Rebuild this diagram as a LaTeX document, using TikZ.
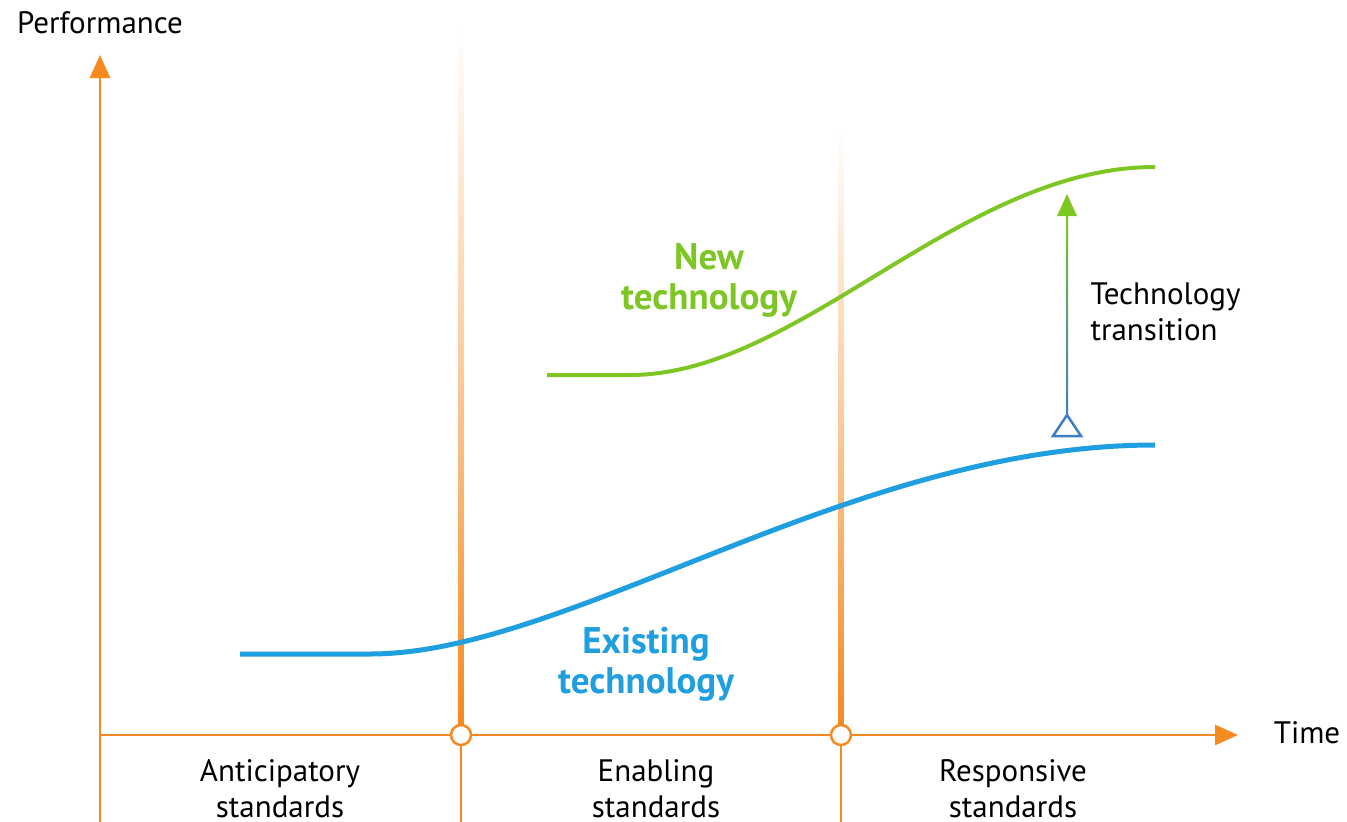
\documentclass[tikz,border=0pt]{standalone}
\usepackage{fontspec}
\setmainfont{PT Sans}
\usetikzlibrary{arrows.meta}
\definecolor{ora}{HTML}{F6891F}
\definecolor{grn}{HTML}{7DC623}
\definecolor{blu}{HTML}{1F9FDF}
\definecolor{tblu}{HTML}{3C7EC8}
\tikzset{
  axis/.style={draw=ora, line width=2.8pt},
  tip/.style={-{Triangle[length=23pt,width=20pt]}},
  mark circ/.style={circle, draw=ora, fill=white, line width=2.5pt, minimum size=20pt, inner sep=0pt},
  lbl/.style={font=\fontsize{31}{36}\selectfont, align=center, text=black},
  big/.style={font=\fontsize{37}{40}\selectfont\bfseries, align=center},
}
\begin{document}
\begin{tikzpicture}[x=1pt,y=-1pt]
\useasboundingbox (0,0) rectangle (1347,822);
% fading vertical lines
\shade[top color=white, bottom color=ora, middle color=ora!45] (458.5,25) rectangle (463.5,726);
\shade[top color=white, bottom color=ora, middle color=ora!45] (838.5,125) rectangle (843.5,726);
% axes
\coordinate (O) at (100,735);
\coordinate (ytop) at (100,55);
\coordinate (ybot) at (100,822);
\coordinate (xend) at (1238,735);
\draw[axis, tip] (ybot) -- (ytop);
\draw[axis, tip] (O) -- (xend);
\node[mark circ] (c1) at (461,735) {};
\node[mark circ] (c2) at (841,735) {};
\coordinate (b1) at (461,822);
\coordinate (b2) at (841,822);
\draw[axis] (c1.south) -- (b1);
\draw[axis] (c2.south) -- (b2);
% curves
\draw[blu, line width=5pt] (240,654) -- (370,654) .. controls (570,654) and (850,445) .. (1155,445);
\draw[grn, line width=4pt] (547,375) -- (630,375) .. controls (800,375) and (960,167) .. (1155,167);
% transition arrow
\shade[top color=grn, bottom color=tblu] (1066,212) rectangle (1068,416);
\fill[grn] (1067,194) -- (1077,216) -- (1057,216) -- cycle;
\draw[tblu, line width=2.5pt, fill=white, line join=miter] (1053,436) -- (1081,436) -- (1067,415) -- cycle;
% labels
\node[lbl] (perf) at (100,23) {Performance};
\node[lbl] (time) at (1307,733) {Time};
\node[lbl, align=left, anchor=west] (trans) at (1087,312) {Technology\\transition};
\node[big, text=grn] (newt) at (709,280) {New\\technology};
\node[big, text=blu] (exist) at (646,664) {Existing\\technology};
\node[lbl] (ant) at (280,789) {Anticipatory\\standards};
\node[lbl] (ena) at (656,789) {Enabling\\standards};
\node[lbl] (res) at (1013,789) {Responsive\\standards};
\end{tikzpicture}
\end{document}
